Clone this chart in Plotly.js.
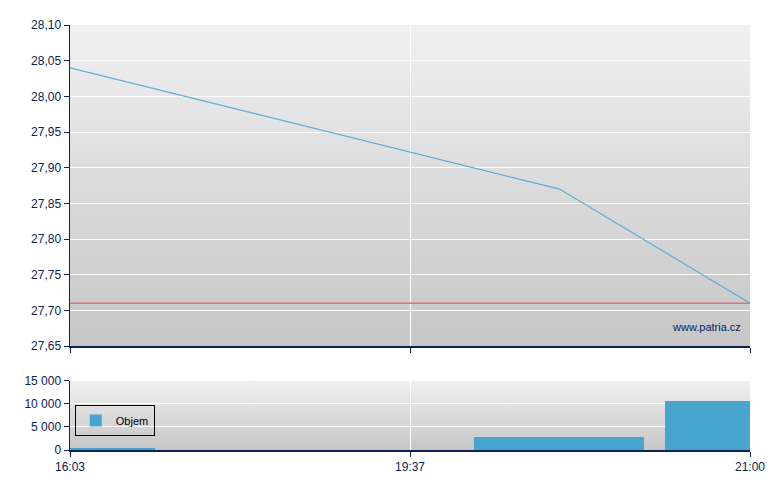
<!DOCTYPE html>
<html>
<head>
<meta charset="utf-8">
<script src="https://cdn.plot.ly/plotly-3.0.1.min.js"></script>
<style>html,body{margin:0;padding:0;background:#fff;}#chart{width:780px;height:490px;}</style>
</head>
<body>
<div id="chart"></div>
<script>
// Price line (x = position on time axis, index units)
const priceX = [0, 5.76, 8];
const priceY = [28.04, 27.87, 27.71];
// Reference (previous close)
const refClose = 27.71;
// Volume bars
const volX = [0.5, 5.75, 7.5];
const volWidth = [1, 2, 1];
const volY = [400, 2850, 10600];
// Tick labels
const tickPos = [0, 4, 8];
const tickText = ['16:03', '19:37', '21:00'];

const navy = '#0b2255';
function grad() {
  const svg = '<svg xmlns="http://www.w3.org/2000/svg" width="10" height="100" preserveAspectRatio="none">' +
    '<defs><linearGradient id="g" x1="0" y1="0" x2="0" y2="1">' +
    '<stop offset="0" stop-color="#f0f0f0"/><stop offset="1" stop-color="#c6c6c6"/></linearGradient></defs>' +
    '<rect width="10" height="100" fill="url(#g)"/></svg>';
  return 'data:image/svg+xml;charset=utf-8,' + encodeURIComponent(svg);
}
const topDom = [0.2447, 1];
const botDom = [0, 0.1624];

const traces = [
  {x: [0, 8], y: [refClose, refClose], type: 'scatter', mode: 'lines',
   line: {color: '#e07070', width: 1.5}, showlegend: false, hoverinfo: 'skip', xaxis: 'x', yaxis: 'y'},
  {x: priceX, y: priceY, type: 'scatter', mode: 'lines',
   line: {color: '#5ab0d6', width: 1.2}, showlegend: false, xaxis: 'x', yaxis: 'y'},
  {x: volX, y: volY, width: volWidth, type: 'bar', name: 'Objem',
   marker: {color: '#47a5cd'}, showlegend: true, xaxis: 'x2', yaxis: 'y2'}
];

const axisCommon = {
  showline: true, linecolor: navy, linewidth: 1.5, ticks: 'outside', ticklen: 5, tickcolor: navy, tickwidth: 1,
  gridcolor: '#ffffff', gridwidth: 1, zeroline: false,
  tickfont: {family: 'Liberation Sans, Arial, sans-serif', size: 12, color: navy}
};

const layout = {
  width: 780, height: 490,
  margin: {l: 70, r: 30, t: 25, b: 40},
  paper_bgcolor: '#ffffff', plot_bgcolor: 'rgba(0,0,0,0)',
  separators: ', ',
  font: {family: 'Liberation Sans, Arial, sans-serif', size: 12, color: navy},
  xaxis: Object.assign({}, axisCommon, {domain: [0, 1], range: [0, 8], anchor: 'y', tickmode: 'array',
    tickvals: tickPos, ticktext: tickText, showticklabels: false, showgrid: true}),
  yaxis: Object.assign({}, axisCommon, {domain: topDom, range: [27.65, 28.10], dtick: 0.05, tick0: 27.65,
    tickformat: '.2f', anchor: 'x', showgrid: true}),
  xaxis2: Object.assign({}, axisCommon, {domain: [0, 1], range: [0, 8], anchor: 'y2', tickmode: 'array',
    tickvals: tickPos, ticktext: tickText, showgrid: true}),
  yaxis2: Object.assign({}, axisCommon, {domain: botDom, range: [0, 15000], dtick: 5000,
    tickformat: ',d', anchor: 'x2', showgrid: true}),
  images: [
    {source: grad(), xref: 'paper', yref: 'paper', x: 0, y: 1, sizex: 1, sizey: 1 - topDom[0],
     sizing: 'stretch', xanchor: 'left', yanchor: 'top', layer: 'below'},
    {source: grad(), xref: 'paper', yref: 'paper', x: 0, y: botDom[1], sizex: 1, sizey: botDom[1],
     sizing: 'stretch', xanchor: 'left', yanchor: 'top', layer: 'below'}
  ],
  legend: {x: 0.007, y: 0.106, xanchor: 'left', yanchor: 'top', bgcolor: 'rgba(0,0,0,0)',
    bordercolor: '#000000', borderwidth: 1, itemwidth: 30, font: {size: 11, color: '#000000'}},
  annotations: [
    {text: 'www.patria.cz', xref: 'paper', yref: 'paper', x: 0.99, y: topDom[0] + 0.045,
     xanchor: 'right', yanchor: 'middle', showarrow: false, font: {size: 11, color: navy}}
  ],
  showlegend: true,
  bargap: 0
};

Plotly.newPlot('chart', traces, layout, {displayModeBar: false, staticPlot: true});
</script>
</body>
</html>
